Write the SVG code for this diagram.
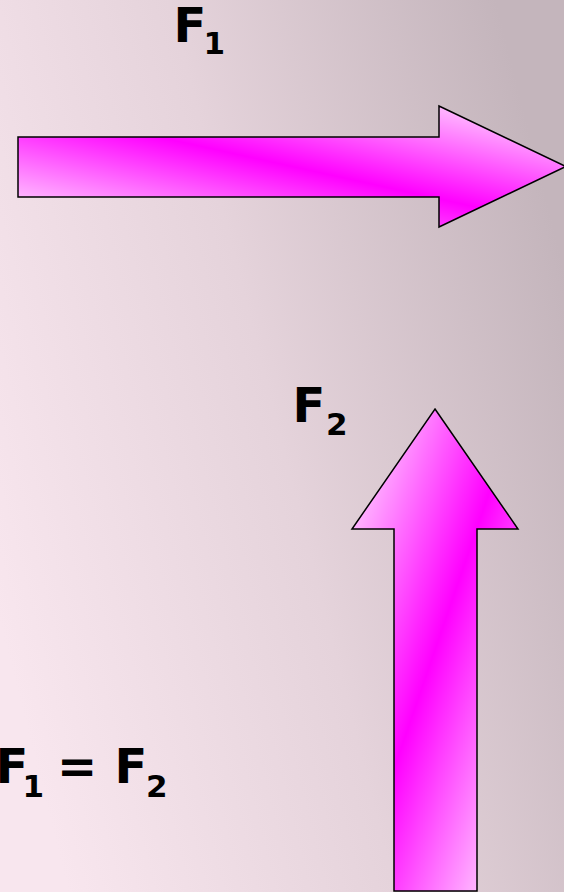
<svg xmlns="http://www.w3.org/2000/svg" width="564" height="892" viewBox="0 0 564 892">
  <defs>
    <linearGradient id="bg" x1="0" y1="0.7" x2="1" y2="0.3">
      <stop offset="0" stop-color="#f8e6ee"/>
      <stop offset="0.5" stop-color="#e5d3db"/>
      <stop offset="1" stop-color="#c4b5bc"/>
    </linearGradient>
    <linearGradient id="gH" x1="0" y1="1" x2="1" y2="0">
      <stop offset="0" stop-color="#fff0ff"/>
      <stop offset="0.5" stop-color="#ff00ff"/>
      <stop offset="1" stop-color="#fff0ff"/>
    </linearGradient>
    <linearGradient id="gV" x1="0" y1="0" x2="1" y2="1">
      <stop offset="0" stop-color="#fff0ff"/>
      <stop offset="0.5" stop-color="#ff00ff"/>
      <stop offset="1" stop-color="#fff0ff"/>
    </linearGradient>
  </defs>
  <style>
    .arrow { stroke: #000; stroke-width: 1.5; stroke-linejoin: miter; }
    .lbl { font-family: "DejaVu Sans", Verdana, sans-serif; font-weight: bold; fill: #000; }
    .big { font-size: 48px; }
    .sub { font-size: 31px; }
  </style>
  <rect x="0" y="0" width="564" height="892" fill="url(#bg)"/>
  <g id="arrow-f1">
    <polygon class="arrow" fill="url(#gH)" points="18,137 439,137 439,106 566,166.5 439,227 439,197 18,197"/>
  </g>
  <g id="arrow-f2">
    <polygon class="arrow" fill="url(#gV)" points="435,409 518,529 477,529 477,891 394,891 394,529 352,529"/>
  </g>
  <g id="label-f1">
    <text class="lbl"><tspan class="big" x="173.6" y="42">F</tspan><tspan class="sub" x="203.5" y="54">1</tspan></text>
  </g>
  <g id="label-f2">
    <text class="lbl"><tspan class="big" x="292.6" y="422">F</tspan><tspan class="sub" x="326" y="435">2</tspan></text>
  </g>
  <g id="label-eq">
    <text class="lbl"><tspan class="big" x="-4.4" y="783">F</tspan><tspan class="sub" x="22.5" y="797">1 </tspan><tspan class="big" x="57" y="783">= </tspan><tspan class="big" x="114.6" y="783">F</tspan><tspan class="sub" x="146" y="797">2</tspan></text>
  </g>
</svg>
